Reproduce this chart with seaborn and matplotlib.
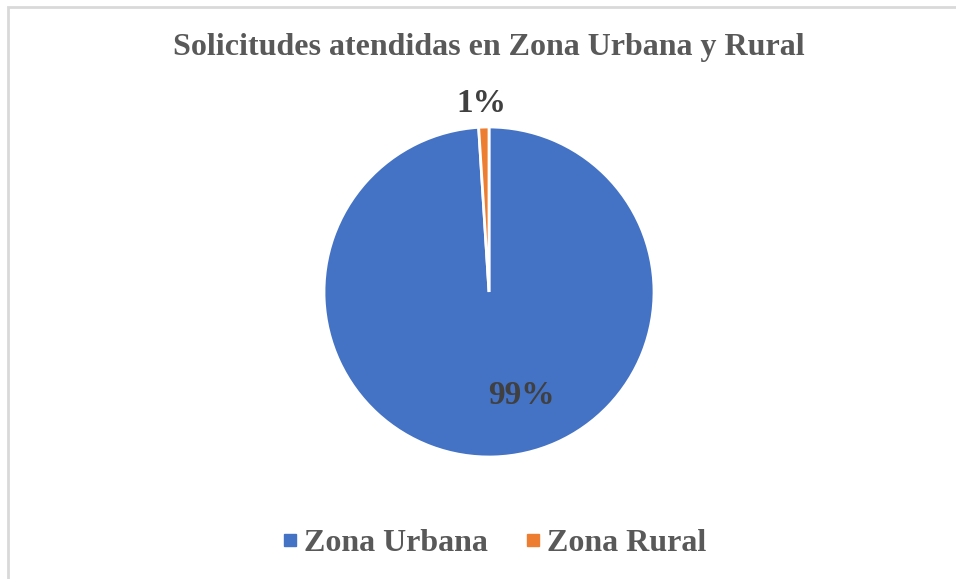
import matplotlib
matplotlib.use("Agg")
import matplotlib.pyplot as plt
from matplotlib.lines import Line2D
from matplotlib.patches import Rectangle
import seaborn as sns

categories = ["Zona Urbana", "Zona Rural"]
values = [99, 1]
pct_labels = ["99%", "1%"]
colors = ["#4472C4", "#ED7D31"]
title = "Solicitudes atendidas en Zona Urbana y Rural"

sns.set_theme(style="white")
plt.rcParams["font.family"] = ["Liberation Serif", "DejaVu Serif"]

W, H = 956, 579
fig = plt.figure(figsize=(W / 100, H / 100), dpi=100)
fig.patch.set_facecolor("white")

# border (top and left visible)
fig.patches.append(Rectangle((8 / W, -0.05), 1.2, 1 - 7 / H + 0.05, transform=fig.transFigure,
                             fill=False, edgecolor="#D9D9D9", linewidth=2))

cx, cy, r = 489, 292, 165
ax = fig.add_axes([(cx - r) / W, (H - cy - r) / H, 2 * r / W, 2 * r / H])
wedges, _ = ax.pie(values, colors=colors, startangle=90, counterclock=False,
                   radius=1, wedgeprops=dict(edgecolor="white", linewidth=2))
ax.set_xlim(-1, 1)
ax.set_ylim(-1, 1)
ax.set_axis_off()

label_pos = [(32 / r, -103 / r), (-8 / r, 188 / r)]
for lab, (x, y) in zip(pct_labels, label_pos):
    ax.text(x, y, lab, ha="center", va="center", fontsize=24, fontweight="bold",
            color="#404040", clip_on=False)

fig.text(489 / W, 1 - 48 / H, title, ha="center", va="center", fontsize=23,
         fontweight="bold", color="#595959")

handles = [Line2D([], [], marker="s", linestyle="none", markersize=9,
                  markerfacecolor=c, markeredgecolor=c) for c in colors]
leg = fig.legend(handles, categories, loc="center", bbox_to_anchor=(495 / W, 1 - 543 / H),
                 ncol=2, frameon=False, handlelength=0.4, handletextpad=0.25,
                 columnspacing=1.2, prop=dict(size=23, weight="bold"))
for t in leg.get_texts():
    t.set_color("#595959")

fig.savefig("out.png", dpi=100, facecolor="white")
